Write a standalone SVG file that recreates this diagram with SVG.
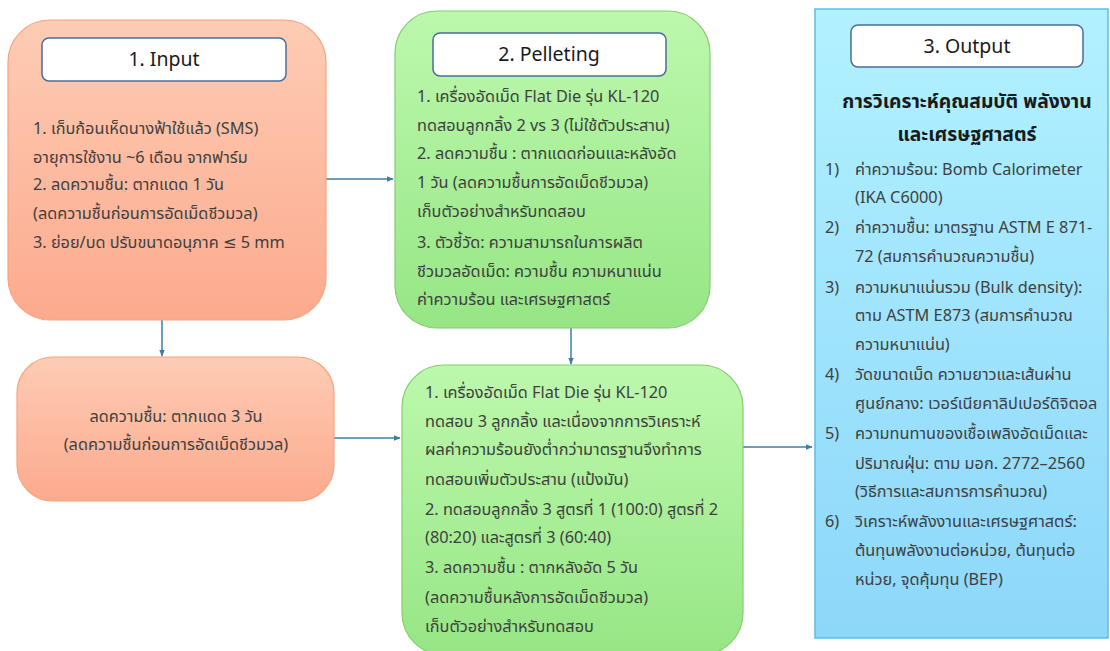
<svg xmlns="http://www.w3.org/2000/svg" width="1110" height="651" viewBox="0 0 1110 651">
<defs>
<linearGradient id="gOrange" x1="0" y1="0" x2="0" y2="1"><stop offset="0" stop-color="#fdccb4"/><stop offset="1" stop-color="#fcaa8e"/></linearGradient>
<linearGradient id="gGreen" x1="0" y1="0" x2="0" y2="1"><stop offset="0" stop-color="#bdf8ad"/><stop offset="1" stop-color="#96e685"/></linearGradient>
<linearGradient id="gBlue" x1="0" y1="0" x2="0" y2="1"><stop offset="0" stop-color="#b2f1ff"/><stop offset="1" stop-color="#8dd7fa"/></linearGradient>
<marker id="arr" viewBox="0 0 10 10" refX="9" refY="5" markerWidth="7" markerHeight="7" orient="auto" markerUnits="userSpaceOnUse"><path d="M0,1 L10,5 L0,9 z" fill="#3d7fa0"/></marker>
<style>
.orange{fill:url(#gOrange);stroke:#f7a47e;stroke-width:1.2}
.green{fill:url(#gGreen);stroke:#86cc70;stroke-width:1.2}
.blue{fill:url(#gBlue);stroke:#5cbdea;stroke-width:1.5}
.title{fill:#ffffff;stroke:#4a6d9c;stroke-width:1.5}
.tt{font-family:"Noto Sans Thai","Noto Sans","DejaVu Sans",sans-serif;font-size:19.5px;fill:#1a1a1a;text-anchor:middle}
.b{font-family:"Noto Sans Thai","Noto Sans","DejaVu Sans",sans-serif;font-size:16.3px;fill:#404040}
.c{text-anchor:middle}
.h{font-family:"Noto Sans Thai","Noto Sans","DejaVu Sans",sans-serif;font-size:19.3px;font-weight:bold;fill:#1a1a1a;text-anchor:middle}
.conn{stroke:#3d7fa0;stroke-width:1.5;fill:none;marker-end:url(#arr)}
</style>
</defs>
<g id="connectors">
<line class="conn" x1="326" y1="179" x2="393" y2="179"/>
<line class="conn" x1="162" y1="320" x2="162" y2="356"/>
<line class="conn" x1="571" y1="328" x2="571" y2="364"/>
<line class="conn" x1="334" y1="438" x2="400" y2="438"/>
<line class="conn" x1="743" y1="447" x2="812" y2="447"/>
</g>
<g id="input">
<rect class="orange" x="8" y="20" width="318" height="300" rx="42"/>
<rect class="title" x="42" y="38" width="244" height="43" rx="7"/>
<text class="tt" x="164" y="66">1. Input</text>
<text class="b" x="33" y="134">1. เก็บก้อนเห็ดนางฟ้าใช้แล้ว (SMS)</text>
<text class="b" x="33" y="163">อายุการใช้งาน ~6 เดือน จากฟาร์ม</text>
<text class="b" x="33" y="190">2. ลดความชื้น: ตากแดด 1 วัน</text>
<text class="b" x="33" y="219">(ลดความชื้นก่อนการอัดเม็ดชีวมวล)</text>
<text class="b" x="33" y="248">3. ย่อย/บด ปรับขนาดอนุภาค ≤ 5 mm</text>
</g>
<g id="pelleting">
<rect class="green" x="395" y="11" width="315" height="317" rx="42"/>
<rect class="title" x="433" y="33" width="233" height="43" rx="7"/>
<text class="tt" x="549" y="61">2. Pelleting</text>
<text class="b" x="417" y="102">1. เครื่องอัดเม็ด Flat Die รุ่น KL-120</text>
<text class="b" x="417" y="131">ทดสอบลูกกลิ้ง 2 vs 3 (ไม่ใช้ตัวประสาน)</text>
<text class="b" x="417" y="159">2. ลดความชื้น : ตากแดดก่อนและหลังอัด</text>
<text class="b" x="417" y="188">1 วัน (ลดความชื้นการอัดเม็ดชีวมวล)</text>
<text class="b" x="417" y="217">เก็บตัวอย่างสำหรับทดสอบ</text>
<text class="b" x="417" y="248">3. ตัวชี้วัด: ความสามารถในการผลิต</text>
<text class="b" x="417" y="277">ชีวมวลอัดเม็ด: ความชื้น ความหนาแน่น</text>
<text class="b" x="417" y="305">ค่าความร้อน และเศรษฐศาสตร์</text>
</g>
<g id="drying">
<rect class="orange" x="17" y="357" width="317" height="144" rx="36"/>
<text class="b c" x="176" y="422">ลดความชื้น: ตากแดด 3 วัน</text>
<text class="b c" x="176" y="450">(ลดความชื้นก่อนการอัดเม็ดชีวมวล)</text>
</g>
<g id="pelleting2">
<rect class="green" x="402" y="365" width="341" height="290" rx="42"/>
<text class="b" x="425" y="398">1. เครื่องอัดเม็ด Flat Die รุ่น KL-120</text>
<text class="b" x="425" y="427">ทดสอบ 3 ลูกกลิ้ง และเนื่องจากการวิเคราะห์</text>
<text class="b" x="425" y="455">ผลค่าความร้อนยังต่ำกว่ามาตรฐานจึงทำการ</text>
<text class="b" x="425" y="485">ทดสอบเพิ่มตัวประสาน (แป้งมัน)</text>
<text class="b" x="425" y="515">2. ทดสอบลูกกลิ้ง 3 สูตรที่ 1 (100:0) สูตรที่ 2</text>
<text class="b" x="425" y="543">(80:20) และสูตรที่ 3 (60:40)</text>
<text class="b" x="425" y="573">3. ลดความชื้น : ตากหลังอัด 5 วัน</text>
<text class="b" x="425" y="603">(ลดความชื้นหลังการอัดเม็ดชีวมวล)</text>
<text class="b" x="425" y="632">เก็บตัวอย่างสำหรับทดสอบ</text>
</g>
<g id="output">
<rect class="blue" x="815" y="9" width="293" height="629"/>
<rect class="title" x="851" y="25" width="232" height="42" rx="7"/>
<text class="tt" x="967" y="53">3. Output</text>
<text class="h" x="967" y="108">การวิเคราะห์คุณสมบัติ พลังงาน</text>
<text class="h" x="967" y="141">และเศรษฐศาสตร์</text>
<text class="b" x="825" y="175">1)</text><text class="b" x="855" y="175">ค่าความร้อน: Bomb Calorimeter</text>
<text class="b" x="855" y="203">(IKA C6000)</text>
<text class="b" x="825" y="233">2)</text><text class="b" x="855" y="233">ค่าความชื้น: มาตรฐาน ASTM E 871-</text>
<text class="b" x="855" y="262">72 (สมการคำนวณความชื้น)</text>
<text class="b" x="825" y="293">3)</text><text class="b" x="855" y="293">ความหนาแน่นรวม (Bulk density):</text>
<text class="b" x="855" y="321">ตาม ASTM E873 (สมการคำนวณ</text>
<text class="b" x="855" y="350">ความหนาแน่น)</text>
<text class="b" x="825" y="380">4)</text><text class="b" x="855" y="380">วัดขนาดเม็ด ความยาวและเส้นผ่าน</text>
<text class="b" x="855" y="409">ศูนย์กลาง: เวอร์เนียคาลิปเปอร์ดิจิตอล</text>
<text class="b" x="825" y="439">5)</text><text class="b" x="855" y="439">ความทนทานของเชื้อเพลิงอัดเม็ดและ</text>
<text class="b" x="855" y="469">ปริมาณฝุ่น: ตาม มอก. 2772–2560</text>
<text class="b" x="855" y="497">(วิธีการและสมการการคำนวณ)</text>
<text class="b" x="825" y="527">6)</text><text class="b" x="855" y="527">วิเคราะห์พลังงานและเศรษฐศาสตร์:</text>
<text class="b" x="855" y="556">ต้นทุนพลังงานต่อหน่วย, ต้นทุนต่อ</text>
<text class="b" x="855" y="585">หน่วย, จุดคุ้มทุน (BEP)</text>
</g>
</svg>
